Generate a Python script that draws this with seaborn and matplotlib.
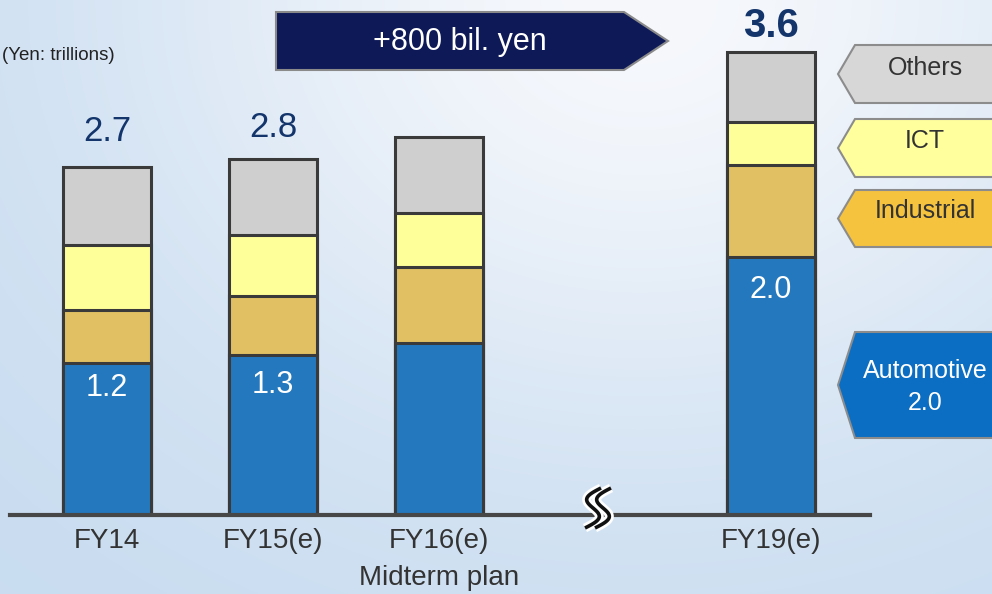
import numpy as np
import pandas as pd
import matplotlib
matplotlib.use("Agg")
import matplotlib.pyplot as plt
from matplotlib.patches import Polygon
import seaborn as sns

# ---------------- data ----------------
categories = ["FY14", "FY15(e)", "FY16(e)", "FY19(e)"]
positions = [0, 1, 2, 4]
automotive = [1.18, 1.24, 1.33, 2.00]
industrial = [0.41, 0.46, 0.59, 0.71]
ict = [0.50, 0.47, 0.42, 0.34]
others = [0.61, 0.59, 0.59, 0.54]
total_labels = ["2.7", "2.8", "", "3.6"]
auto_labels = ["1.2", "1.3", "", "2.0"]
segments = ["Automotive", "Industrial", "ICT", "Others"]
tag_labels = ["Others", "ICT", "Industrial", "Automotive\n2.0"]
arrow_label = "+800 bil. yen"
unit_label = "(Yen: trillions)"
group_label = "Midterm plan"

seg_colors = {"Automotive": "#2479BE", "Industrial": "#E0C062",
              "ICT": "#FFFF9A", "Others": "#CFCFCF"}

sns.set_theme(style="white")
plt.rcParams["font.family"] = ["Liberation Sans", "DejaVu Sans"]

W, H = 992, 594
fig = plt.figure(figsize=(W / 100, H / 100), dpi=100)

# background gradient
bg = fig.add_axes([0, 0, 1, 1], zorder=0)
yy, xx = np.mgrid[0:H, 0:W]
t = np.exp(-((xx - 640) / 520.0) ** 2 - (yy / 430.0) ** 2)
c_dark = np.array([0xC8, 0xDC, 0xF0]) / 255.0
c_light = np.array([0xF6, 0xF8, 0xFC]) / 255.0
img = c_dark[None, None, :] * (1 - t[..., None]) + c_light[None, None, :] * t[..., None]
bg.imshow(img, aspect="auto", extent=[0, W, H, 0])
bg.set_axis_off()

# main axes: baseline at y=515px, 129 px per unit; x=0 at 107px, 166 px per unit
px_unit_y = 129.0
px_unit_x = 166.0
ax_left, ax_right = 10, 870
base = 515
ymax = 3.9
ax = fig.add_axes([ax_left / W, (H - base) / H, (ax_right - ax_left) / W,
                   ymax * px_unit_y / H], zorder=2)
ax.patch.set_alpha(0)

df = pd.DataFrame({"x": positions, "Automotive": automotive, "Industrial": industrial,
                   "ICT": ict, "Others": others})
cum = df[segments].cumsum(axis=1)
for seg in reversed(segments):
    sns.barplot(x=df["x"], y=cum[seg], native_scale=True, width=0.525,
                color=seg_colors[seg], saturation=1, edgecolor="#3A3A3A",
                linewidth=2.2, errorbar=None, ax=ax)

ax.set_xlim((ax_left - 107) / px_unit_x, (ax_right - 107) / px_unit_x)
ax.set_ylim(0, ymax)
ax.set_xticks(positions, categories)
ax.set_yticks([])
ax.set_xlabel("")
ax.set_ylabel("")
for s in ["top", "left", "right"]:
    ax.spines[s].set_visible(False)
ax.spines["bottom"].set_color("#474747")
ax.spines["bottom"].set_linewidth(3)
ax.tick_params(axis="x", length=0, pad=9, labelsize=20, labelcolor="#333333")

totals = cum["Others"].tolist()
offs = [35, 31, 0, 26]
for x, tot, lab, o in zip(positions, totals, total_labels, offs):
    if lab:
        bold = lab == "3.6"
        ax.text(x, tot + o / px_unit_y, lab, ha="center", va="center",
                fontsize=29 if bold else 25, color="#13356B",
                fontweight="bold" if bold else "normal")
ioffs = [25, 30, 0, 33]
for x, a, lab, o in zip(positions, automotive, auto_labels, ioffs):
    if lab:
        ax.text(x, a - o / px_unit_y, lab, ha="center", va="center",
                fontsize=22, color="white")

# overlay in pixel coords for decorations
ov = fig.add_axes([0, 0, 1, 1], zorder=3)
ov.set_xlim(0, W)
ov.set_ylim(H, 0)
ov.set_axis_off()
ov.patch.set_alpha(0)

# top arrow
ov.add_patch(Polygon([(276, 12), (624, 12), (668, 41), (624, 70), (276, 70)],
                     closed=True, facecolor="#0E1957", edgecolor="#8A8A8A", lw=1.5))
ov.text(460, 42, arrow_label, ha="center", va="center", color="white", fontsize=22)

# unit label
ov.text(2, 56, unit_label, ha="left", va="center", color="#222222", fontsize=13.5)

# right side tags
tags = [(45, 103, "#D7D7D7", "#333333", 6), (119, 177, "#FFFF9E", "#333333", 7),
        (190, 247, "#F6C33F", "#333333", 7), (332, 438, "#0C6EC2", "white", -2)]
for (y0, y1, fc, tc, up), lab in zip(tags, tag_labels):
    ym = (y0 + y1) / 2
    ov.add_patch(Polygon([(1000, y0), (855, y0), (838, ym), (855, y1), (1000, y1)],
                         closed=True, facecolor=fc, edgecolor="#8C8C8C", lw=1.5))
    ov.text(925, ym - up, lab, ha="center", va="center", color=tc, fontsize=18,
            linespacing=1.45)

# axis break symbol (two S-curves)
tt = np.linspace(0, 1, 80)
for pass_color, pass_lw in (("white", 6.5), ("#111111", 2.6)):
    for dx in (-5, 5):
        xs = 598 + dx + 16 * (0.5 - tt) - 10 * np.sin(2 * np.pi * tt)
        ys = 488 + 40 * tt
        ov.plot(xs, ys, color=pass_color, lw=pass_lw, solid_capstyle="butt")

ov.text(439, 578, group_label, ha="center", va="center", color="#333333",
        fontsize=20)

fig.savefig("out.png", dpi=100)
